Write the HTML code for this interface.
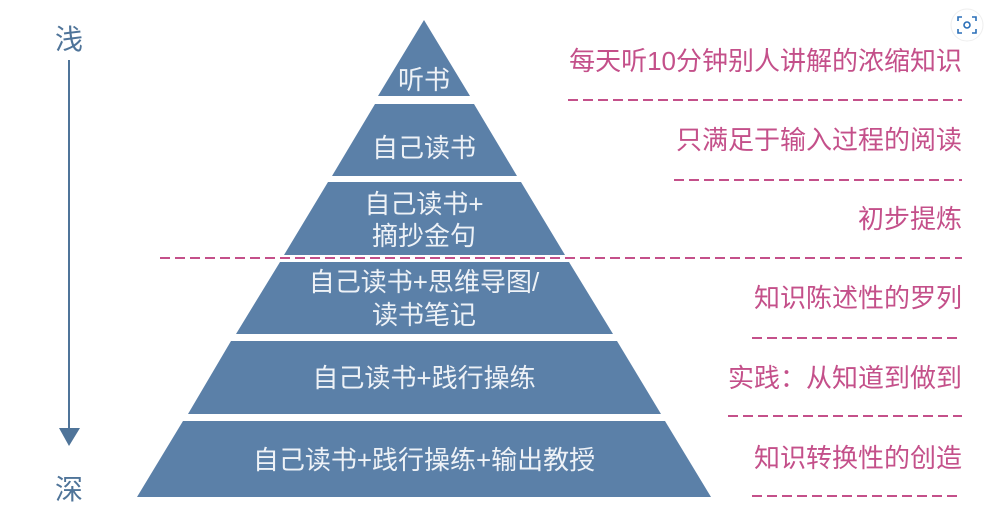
<!DOCTYPE html>
<html><head><meta charset="utf-8"><style>
html,body{margin:0;padding:0;background:#fff;}
body{width:988px;height:506px;overflow:hidden;position:relative;}
svg{position:absolute;left:0;top:0;}
text{font-family:"Liberation Sans","Noto Sans CJK SC",sans-serif;}
</style></head><body>
<svg width="988" height="506" viewBox="0 0 988 506">
<g fill="#5b80a8">
<polygon points="424,20 470,96 378,96"/>
<polygon points="375,104 474,104 517,176 332,176"/>
<polygon points="328,182 521,182 565,255 284,255"/>
<polygon points="280,262 569,262 613,334 236,334"/>
<polygon points="231,341 617,341 661,414 188,414"/>
<polygon points="183,421 665,421 711,497 137,497"/>
</g>
<g fill="#eef2f7" font-size="26" text-anchor="middle">
<text x="424" y="89">听书</text>
<text x="424" y="157">自己读书</text>
<text x="424" y="213">自己读书+</text>
<text x="424" y="245">摘抄金句</text>
<text x="424" y="291">自己读书+思维导图/</text>
<text x="424" y="324">读书笔记</text>
<text x="424" y="387">自己读书+践行操练</text>
<text x="424" y="469">自己读书+践行操练+输出教授</text>
</g>
<g stroke="#c4508a" stroke-width="2" stroke-dasharray="10,5" fill="none">
<line x1="568" y1="100" x2="962" y2="100"/>
<line x1="674" y1="180" x2="962" y2="180"/>
<line x1="160" y1="258" x2="962" y2="258"/>
<line x1="752" y1="338" x2="962" y2="338"/>
<line x1="728" y1="416" x2="962" y2="416"/>
<line x1="752" y1="496" x2="962" y2="496"/>
</g>
<g fill="#c4508a" font-size="26" text-anchor="end">
<text x="962" y="70">每天听10分钟别人讲解的浓缩知识</text>
<text x="962" y="149">只满足于输入过程的阅读</text>
<text x="962" y="228">初步提炼</text>
<text x="962" y="307">知识陈述性的罗列</text>
<text x="962" y="387">实践：从知道到做到</text>
<text x="962" y="467">知识转换性的创造</text>
</g>
<g fill="#4f7499">
<text x="69" y="49" font-size="28" text-anchor="middle">浅</text>
<text x="69" y="499" font-size="28" text-anchor="middle">深</text>
<rect x="68" y="60" width="2" height="372"/>
<polygon points="59,428 80,428 69,446"/>
</g>
<circle cx="967" cy="25" r="16" fill="#fff" stroke="#eee"/>
<g stroke="#2a6fb8" stroke-width="1.6" fill="none">
<path d="M958,21 v-4 h4 M972,17 h4 v4 M976,29 v4 h-4 M962,33 h-4 v-4"/>
<circle cx="967" cy="25" r="3"/>
</g>
</svg>
</body></html>
